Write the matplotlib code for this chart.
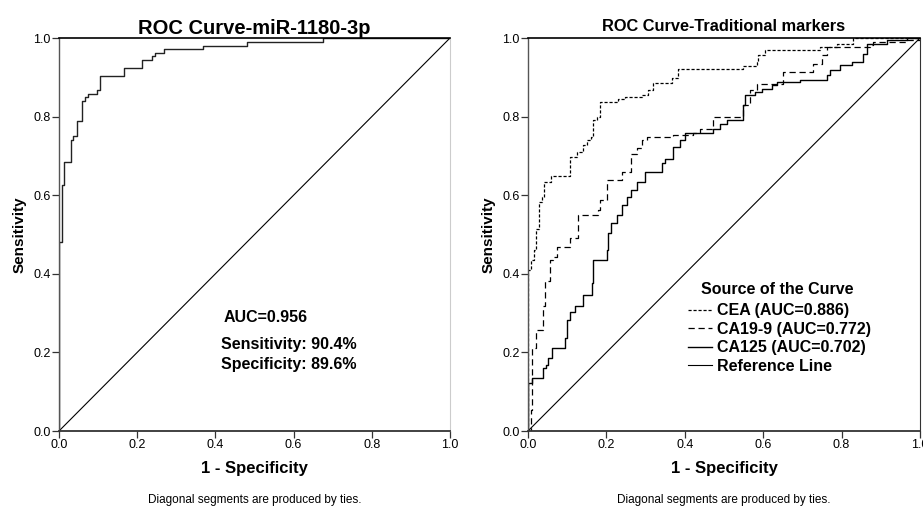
import matplotlib.pyplot as plt

plt.rcParams['font.family'] = ['Liberation Sans', 'DejaVu Sans']

# ROC points: (1 - specificity at the vertical step, sensitivity reached)
mir_fpr = [0, 0, 0.008, 0.013, 0.031, 0.035, 0.045, 0.060, 0.066, 0.073, 0.096, 0.105,
           0.166, 0.211, 0.237, 0.246, 0.269, 0.369, 0.480, 0.676, 1.0]
mir_tpr = [0, 0.482, 0.626, 0.684, 0.741, 0.751, 0.790, 0.839, 0.849, 0.857, 0.868, 0.904,
           0.924, 0.943, 0.953, 0.963, 0.972, 0.980, 0.991, 1.0, 1.0]

cea_fpr = [0, 0, 0.007, 0.015, 0.020, 0.028, 0.035, 0.040, 0.058, 0.107, 0.125, 0.140,
           0.150, 0.160, 0.167, 0.175, 0.184, 0.230, 0.247, 0.290, 0.306, 0.319, 0.367,
           0.383, 0.498, 0.549, 0.583, 0.588, 0.605, 0.745, 0.787, 0.830, 1.0]
cea_tpr = [0, 0.410, 0.435, 0.460, 0.515, 0.583, 0.596, 0.634, 0.648, 0.698, 0.710, 0.727,
           0.740, 0.749, 0.791, 0.800, 0.838, 0.845, 0.851, 0.855, 0.868, 0.885, 0.897,
           0.920, 0.922, 0.930, 0.939, 0.956, 0.969, 0.977, 0.986, 1.0, 1.0]

ca199_fpr = [0, 0.007, 0.010, 0.020, 0.037, 0.043, 0.056, 0.065, 0.073, 0.107, 0.128, 0.179,
             0.184, 0.201, 0.239, 0.264, 0.277, 0.290, 0.303, 0.371, 0.422, 0.439, 0.473,
             0.549, 0.566, 0.583, 0.651, 0.728, 0.749, 0.762, 0.872, 0.881, 0.966, 1.0]
ca199_tpr = [0, 0.053, 0.210, 0.257, 0.317, 0.382, 0.435, 0.443, 0.469, 0.490, 0.549, 0.562,
             0.587, 0.638, 0.659, 0.706, 0.719, 0.740, 0.748, 0.753, 0.757, 0.769, 0.799,
             0.829, 0.867, 0.884, 0.914, 0.935, 0.956, 0.977, 0.981, 0.990, 0.996, 1.0]

ca125_fpr = [0, 0, 0.009, 0.037, 0.046, 0.052, 0.060, 0.094, 0.099, 0.107, 0.120, 0.141,
             0.162, 0.167, 0.201, 0.205, 0.213, 0.226, 0.239, 0.252, 0.264, 0.277, 0.298,
             0.341, 0.349, 0.371, 0.388, 0.401, 0.473, 0.490, 0.507, 0.549, 0.554, 0.579,
             0.596, 0.622, 0.634, 0.694, 0.762, 0.770, 0.796, 0.826, 0.855, 0.864, 0.915,
             0.966, 1.0]
ca125_tpr = [0, 0.121, 0.136, 0.160, 0.168, 0.185, 0.210, 0.236, 0.283, 0.304, 0.317, 0.346,
             0.376, 0.435, 0.461, 0.503, 0.528, 0.549, 0.575, 0.596, 0.613, 0.634, 0.659,
             0.681, 0.693, 0.723, 0.740, 0.757, 0.769, 0.782, 0.791, 0.829, 0.854, 0.863,
             0.871, 0.880, 0.888, 0.892, 0.905, 0.918, 0.931, 0.939, 0.960, 0.986, 0.994,
             1.0, 1.0]

legend_labels = ['CEA (AUC=0.886)', 'CA19-9 (AUC=0.772)', 'CA125 (AUC=0.702)', 'Reference Line']
ticks = [0.0, 0.2, 0.4, 0.6, 0.8, 1.0]

fig = plt.figure(figsize=(9.23, 5.08), dpi=100)
ax1 = fig.add_axes([59 / 923, 77 / 508, 391 / 923, 393 / 508])
ax2 = fig.add_axes([528 / 923, 77 / 508, 392 / 923, 393 / 508])


def style(ax, right_color):
    ax.set_xlim(0, 1)
    ax.set_ylim(0, 1)
    ax.set_xticks(ticks)
    ax.set_yticks(ticks)
    ax.set_xticklabels(['%.1f' % t for t in ticks])
    ax.set_yticklabels(['%.1f' % t for t in ticks])
    ax.tick_params(direction='out', length=5, width=0.9, color='#333333',
                   labelsize=9, pad=1)
    ax.spines['top'].set_color('black')
    ax.spines['top'].set_linewidth(1.2)
    ax.spines['bottom'].set_color('#333333')
    ax.spines['bottom'].set_linewidth(1.3)
    ax.spines['left'].set_color('#555555')
    ax.spines['left'].set_linewidth(1.0)
    ax.spines['right'].set_color(right_color)
    ax.spines['right'].set_linewidth(0.8)
    ax.set_xlabel('1 - Specificity', fontsize=12, fontweight='bold', labelpad=7)
    ax.set_ylabel('Sensitivity', fontsize=11, fontweight='bold', labelpad=5)
    ax.plot([0, 1], [0, 1], color='black', lw=0.8)
    ax.text(0.5, -0.175, 'Diagonal segments are produced by ties.', transform=ax.transAxes,
            ha='center', va='center', fontsize=8.5)


# left: miR-1180-3p
style(ax1, '#cccccc')
ax1.plot(mir_fpr, mir_tpr, drawstyle='steps-post', color='#222222', lw=1.0)
ax1.set_title('ROC Curve-miR-1180-3p', fontsize=14.5, fontweight='bold', pad=3)
ax1.text(0.42, 0.29, 'AUC=0.956', fontsize=11.5, fontweight='bold', va='center')
ax1.text(0.415, 0.219, 'Sensitivity: 90.4%', fontsize=11.5, fontweight='bold', va='center')
ax1.text(0.415, 0.168, 'Specificity: 89.6%', fontsize=11.5, fontweight='bold', va='center')

# right: traditional markers
style(ax2, '#333333')
l1, = ax2.plot(cea_fpr, cea_tpr, drawstyle='steps-post', color='black', lw=0.9,
               linestyle=(0, (2.5, 1.5)))
l2, = ax2.plot(ca199_fpr, ca199_tpr, drawstyle='steps-post', color='black', lw=0.9,
               linestyle=(0, (5, 3)))
l3, = ax2.plot(ca125_fpr, ca125_tpr, drawstyle='steps-post', color='black', lw=1.0)
l4 = ax2.lines[0]
ax2.set_title('ROC Curve-Traditional markers', fontsize=11.8, fontweight='bold', pad=5)
ax2.text(0.4425, 0.361, 'Source of the Curve', transform=ax2.transAxes, fontsize=11.5,
         fontweight='bold', va='center')
leg = ax2.legend([l1, l2, l3, l4], legend_labels,
                 loc='upper left', bbox_to_anchor=(0.408, 0.325), frameon=False,
                 prop={'weight': 'bold', 'size': 11.5},
                 handlelength=1.5, handletextpad=0.3, labelspacing=0.22,
                 borderpad=0, borderaxespad=0)

fig.savefig('out.png', dpi=100)
